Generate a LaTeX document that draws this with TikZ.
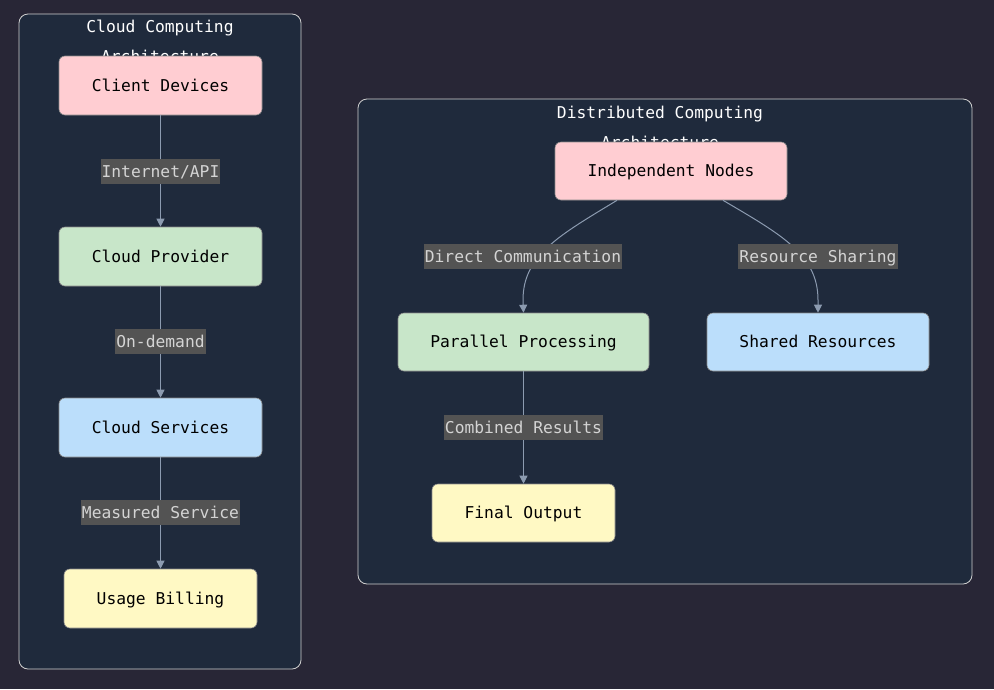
\documentclass[tikz,border=0pt]{standalone}
\usepackage{fontspec}
\newfontfamily\monof{DejaVu Sans Mono}
\usetikzlibrary{arrows.meta}
\definecolor{pagebg}{HTML}{282636}
\definecolor{clusterbg}{HTML}{1F2A3C}
\definecolor{clusterbd}{HTML}{D0D0D0}
\definecolor{cpink}{HTML}{FFCDD2}
\definecolor{cgreen}{HTML}{C8E6C9}
\definecolor{cblue}{HTML}{BBDEFB}
\definecolor{cyellow}{HTML}{FFF9C4}
\definecolor{nodebd}{HTML}{8A8A8A}
\definecolor{edgec}{HTML}{8C9BB0}
\definecolor{lblbg}{HTML}{535353}
\definecolor{lbltext}{HTML}{D4D4D4}
\tikzset{
  cluster/.style={draw=clusterbd, fill=clusterbg, rounded corners=9pt, line width=0.8pt},
  ctitle/.style={text=white, font=\monof\fontsize{16.3}{26}\selectfont, align=center, inner sep=0pt},
  box/.style={draw=nodebd, rounded corners=6pt, line width=0.6pt, minimum height=59pt, inner sep=0pt, text=black, font=\monof\fontsize{16.3}{18}\selectfont, text height=12pt, text depth=1pt},
  lbl/.style={fill=lblbg, text=lbltext, font=\monof\fontsize{16.3}{18}\selectfont, inner sep=0pt, minimum height=25pt, text height=13pt, text depth=1pt, inner xsep=1pt},
  edge/.style={draw=edgec, line width=1pt, -{Triangle[length=8pt,width=8pt]}},
}
\begin{document}
\begin{tikzpicture}[x=1pt,y=-1pt]
\fill[pagebg] (0,0) rectangle (994,689);
\useasboundingbox (0,0) rectangle (994,689);

% clusters
\draw[cluster] (19,14) rectangle (301,669);
\node[ctitle] (t1a) at (160,28) {Cloud Computing};
\node[ctitle] (t1b) at (160,56) {Architecture};
\draw[cluster] (358,99) rectangle (972,584);
\node[ctitle] (t2a) at (660,114) {Distributed Computing};
\node[ctitle] (t2b) at (660,142) {Architecture};

% left nodes
\node[box, fill=cpink, minimum width=203pt] (cd) at (160.5,85.5) {Client Devices};
\node[box, fill=cgreen, minimum width=203pt] (cp) at (160.5,256.5) {Cloud Provider};
\node[box, fill=cblue, minimum width=203pt] (cs) at (160.5,427.5) {Cloud Services};
\node[box, fill=cyellow, minimum width=193pt] (ub) at (160.5,598.5) {Usage Billing};

% right nodes
\node[box, fill=cpink, minimum width=232pt, minimum height=58pt] (ind) at (671,171) {Independent Nodes};
\node[box, fill=cgreen, minimum width=251pt, minimum height=58pt] (pp) at (523.5,342) {Parallel Processing};
\node[box, fill=cblue, minimum width=222pt, minimum height=58pt] (sr) at (818,342) {Shared Resources};
\node[box, fill=cyellow, minimum width=183pt, minimum height=58pt] (fo) at (523.5,513) {Final Output};

% left edges
\draw[edge] (cd.south) -- (cp.north);
\draw[edge] (cp.south) -- (cs.north);
\draw[edge] (cs.south) -- (ub.north);
\node[lbl] (l1) at (160.5,171) {Internet/API};
\node[lbl] (l2) at (160.5,341) {On-demand};
\node[lbl] (l3) at (160.5,512) {Measured Service};

% right edges
\draw[edge] ([xshift=-54pt]ind.south) .. controls (560,235) and (523,255) .. (523,300) -- (pp.north);
\draw[edge] ([xshift=52pt]ind.south) .. controls (782,235) and (818,255) .. (818,300) -- (sr.north);
\draw[edge] (pp.south) -- (fo.north);
\node[lbl] (l4) at (523,256) {Direct Communication};
\node[lbl] (l5) at (818,256) {Resource Sharing};
\node[lbl] (l6) at (523.5,427) {Combined Results};
\end{tikzpicture}
\end{document}
